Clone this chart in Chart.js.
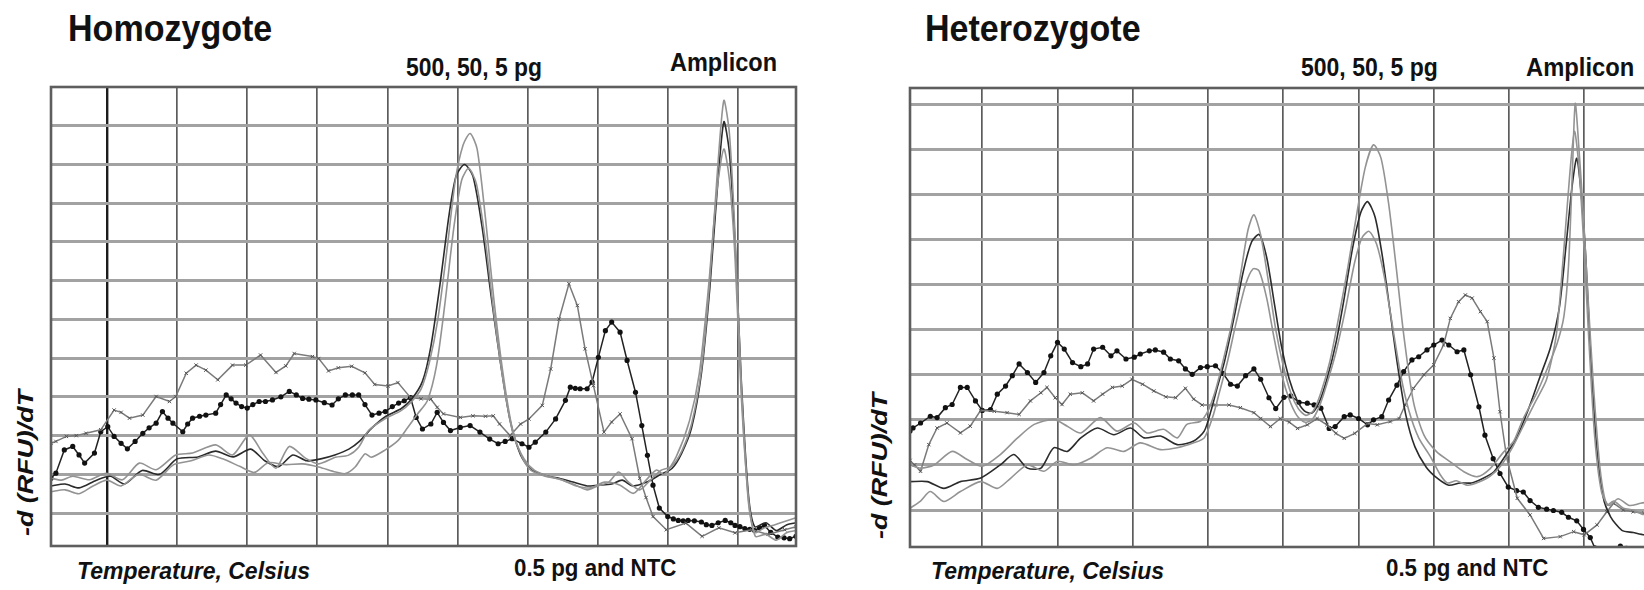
<!DOCTYPE html>
<html>
<head>
<meta charset="utf-8">
<script src="https://cdn.jsdelivr.net/npm/chart.js@4.4.1/dist/chart.umd.min.js"></script>
<style>
  body { margin: 0; width: 1644px; height: 590px; overflow: hidden; background: #fff; position: relative;
         font-family: "Liberation Sans", Arial, sans-serif; }
  .lbl { position: absolute; white-space: nowrap; line-height: 1; color: #111; font-weight: bold; transform-origin: 0 0; }
  .ylab { position: absolute; white-space: nowrap; line-height: 1; color: #111; font-weight: bold; font-style: italic;
          font-size: 22px; transform: translate(-50%, -50%) rotate(-90deg) scaleX(1.22); }
  .plot { position: absolute; }
</style>
</head>
<body>
<div class="lbl" style="left:68px;top:10px;font-size:37px;transform:scaleX(.92)">Homozygote</div>
<div class="lbl" style="left:406px;top:55px;font-size:25px;transform:scaleX(.915)">500, 50, 5 pg</div>
<div class="lbl" style="left:670px;top:50px;font-size:25px;transform:scaleX(.94)">Amplicon</div>
<div class="lbl" style="left:77px;top:560px;font-size:23px;font-style:italic">Temperature, Celsius</div>
<div class="lbl" style="left:514px;top:557px;font-size:23px;transform:scaleX(.97)">0.5 pg and NTC</div>
<div class="ylab" style="left:26px;top:463px">-d (RFU)/dT</div>

<div class="lbl" style="left:925px;top:10px;font-size:37px;transform:scaleX(.92)">Heterozygote</div>
<div class="lbl" style="left:1301px;top:55px;font-size:25px;transform:scaleX(.92)">500, 50, 5 pg</div>
<div class="lbl" style="left:1526px;top:55px;font-size:25px;transform:scaleX(.95)">Amplicon</div>
<div class="lbl" style="left:931px;top:560px;font-size:23px;font-style:italic">Temperature, Celsius</div>
<div class="lbl" style="left:1386px;top:557px;font-size:23px;transform:scaleX(.97)">0.5 pg and NTC</div>
<div class="ylab" style="left:880px;top:466px">-d (RFU)/dT</div>

<div class="plot" style="left:49px;top:85px;width:749px;height:463px"><canvas id="homo"></canvas></div>
<div class="plot" style="left:908px;top:86px;width:749px;height:463px"><canvas id="hetero"></canvas></div>

<script>
// grid positions (temperature, -d(RFU)/dT)
const homoGridX = [70, 71, 72, 73, 74, 75, 76, 77, 78, 79];
const homoGridY = [0, 1, 2, 3, 4, 5, 6, 7, 8, 9, 10];
const heteroGridX = [70, 71, 72, 73, 74, 75, 76, 77, 78];
const heteroGridY = [0, 1, 2, 3, 4, 5, 6, 7, 8, 9];

// Homozygote: 500 / 50 / 5 pg (smooth), 0.5 pg (x markers), NTC (dots)
const homo500 = [[69.2,0.9],[69.35,0.85],[69.51,0.95],[69.75,0.86],[69.99,1.03],[70.22,0.86],[70.46,1.29],[70.7,1.12],[70.98,1.5],[71.22,1.55],[71.55,1.76],[71.79,1.5],[72.03,2.02],[72.22,1.55],[72.41,1.16],[72.6,1.72],[72.83,1.42],[73.02,1.27],[73.26,1.44],[73.44,1.49],[73.59,1.7],[73.73,2.13],[73.96,2.43],[74.19,2.64],[74.33,2.85],[74.48,3.2],[74.6,3.9],[74.72,5.0],[74.85,6.8],[74.97,8.6],[75.08,9.5],[75.18,9.8],[75.28,9.4],[75.4,7.6],[75.52,5.5],[75.65,3.6],[75.78,2.2],[75.92,1.45],[76.05,1.1],[76.25,0.95],[76.45,0.88],[76.65,0.75],[76.85,0.6],[77.0,0.7],[77.16,0.8],[77.3,1.06],[77.44,0.8],[77.6,0.6],[77.75,0.85],[77.9,1.1],[78.05,1.2],[78.2,1.6],[78.34,2.3],[78.48,3.7],[78.6,6.0],[78.7,8.6],[78.8,10.65],[78.88,9.8],[78.96,7.2],[79.05,3.3],[79.15,0.3],[79.24,-0.5],[79.38,-0.38],[79.53,-0.3],[79.7,-0.2],[79.83,-0.12]];
const homo50 = [[69.2,0.7],[69.4,0.75],[69.6,0.65],[69.85,0.85],[70.05,0.95],[70.25,0.75],[70.5,1.1],[70.75,1.0],[71.0,1.4],[71.3,1.45],[71.55,1.6],[71.8,1.45],[72.05,1.65],[72.25,1.35],[72.45,1.2],[72.65,1.5],[72.85,1.35],[73.05,1.4],[73.25,1.5],[73.45,1.65],[73.6,1.85],[73.78,2.2],[73.98,2.5],[74.2,2.7],[74.35,2.95],[74.5,3.4],[74.62,4.3],[74.75,5.9],[74.88,7.7],[74.98,8.7],[75.1,9.0],[75.22,8.7],[75.35,7.4],[75.48,5.6],[75.62,3.8],[75.75,2.4],[75.9,1.5],[76.05,1.12],[76.25,0.97],[76.45,0.9],[76.65,0.8],[76.85,0.7],[77.0,0.72],[77.2,0.75],[77.35,0.85],[77.5,0.7],[77.7,0.8],[77.9,1.0],[78.06,1.15],[78.2,1.55],[78.34,2.2],[78.48,3.6],[78.6,5.8],[78.7,8.2],[78.8,10.1],[78.88,9.3],[78.96,7.0],[79.05,3.4],[79.15,0.5],[79.24,-0.35],[79.4,-0.25],[79.55,-0.45],[79.7,-0.3],[79.83,-0.25]];
const homo5 = [[69.2,0.55],[69.4,0.6],[69.6,0.5],[69.8,0.7],[70.0,0.85],[70.2,0.7],[70.45,1.0],[70.7,0.85],[70.95,1.25],[71.2,1.35],[71.45,1.5],[71.65,1.4],[71.9,1.2],[72.1,1.05],[72.3,1.3],[72.55,1.25],[72.79,1.27],[73.02,1.19],[73.26,1.06],[73.4,1.02],[73.54,1.19],[73.68,1.53],[73.77,1.44],[73.96,1.62],[74.15,1.87],[74.29,2.21],[74.43,2.56],[74.57,2.9],[74.7,3.8],[74.82,5.4],[74.95,7.4],[75.06,8.6],[75.16,8.9],[75.27,8.5],[75.4,7.0],[75.53,5.0],[75.67,3.2],[75.8,2.0],[75.95,1.4],[76.1,1.1],[76.3,0.95],[76.5,0.85],[76.7,0.7],[76.9,0.65],[77.1,0.8],[77.32,0.72],[77.51,0.51],[77.69,0.85],[77.84,1.11],[77.95,1.0],[78.12,1.45],[78.31,2.38],[78.45,3.6],[78.58,5.8],[78.7,8.3],[78.8,9.4],[78.88,8.6],[78.96,6.6],[79.05,3.0],[79.15,0.4],[79.25,-0.6],[79.4,-0.55],[79.55,-0.7],[79.7,-0.5],[79.83,-0.45]];
const homoHalfPg = [[69.2,1.8],[69.27,1.85],[69.42,1.98],[69.56,2.0],[69.7,2.06],[69.91,2.15],[70.1,2.66],[70.2,2.6],[70.32,2.45],[70.51,2.53],[70.7,3.01],[70.89,2.88],[70.98,3.01],[71.13,3.61],[71.27,3.82],[71.41,3.69],[71.58,3.44],[71.79,3.82],[71.98,3.82],[72.19,4.08],[72.41,3.63],[72.55,3.8],[72.67,4.12],[72.93,4.04],[73.02,3.99],[73.16,3.67],[73.3,3.75],[73.49,3.79],[73.68,3.62],[73.82,3.32],[74.01,3.28],[74.15,3.37],[74.33,2.98],[74.48,2.95],[74.62,2.94],[74.71,2.73],[74.8,2.56],[75.04,2.47],[75.22,2.51],[75.4,2.5],[75.51,2.51],[75.6,2.3],[75.75,2.0],[75.9,2.3],[76.02,2.43],[76.21,2.78],[76.33,3.72],[76.45,5.01],[76.59,5.92],[76.71,5.36],[76.82,4.24],[76.94,3.29],[77.09,2.09],[77.2,2.35],[77.32,2.56],[77.49,1.92],[77.6,0.9],[77.69,0.4],[77.79,-0.09],[77.98,-0.43],[78.26,-0.26],[78.49,-0.6],[78.73,-0.38],[78.96,-0.51],[79.2,-0.43],[79.43,-0.55],[79.67,-0.43],[79.83,-0.35]];
const homoNtc = [[69.2,0.9],[69.27,1.03],[69.39,1.63],[69.51,1.72],[69.6,1.5],[69.68,1.29],[69.82,1.55],[69.91,2.1],[70.01,2.23],[70.1,1.98],[70.2,1.8],[70.29,1.66],[70.4,1.85],[70.51,2.06],[70.6,2.2],[70.7,2.32],[70.79,2.62],[70.87,2.45],[70.94,2.32],[71.08,2.1],[71.15,2.3],[71.22,2.45],[71.32,2.5],[71.41,2.53],[71.55,2.58],[71.62,2.8],[71.7,3.05],[71.77,2.95],[71.84,2.84],[71.92,2.75],[72.0,2.71],[72.08,2.8],[72.17,2.88],[72.26,2.88],[72.36,2.92],[72.48,3.0],[72.6,3.14],[72.7,3.05],[72.79,2.96],[72.88,2.94],[72.98,2.92],[73.1,2.85],[73.21,2.79],[73.3,2.95],[73.4,3.05],[73.5,3.05],[73.59,3.05],[73.68,2.8],[73.78,2.53],[73.88,2.58],[73.97,2.62],[74.07,2.75],[74.16,2.84],[74.24,2.9],[74.33,2.98],[74.41,2.47],[74.5,2.17],[74.62,2.3],[74.71,2.6],[74.8,2.34],[74.9,2.13],[75.04,2.21],[75.18,2.26],[75.32,2.09],[75.46,1.91],[75.58,1.79],[75.68,1.85],[75.78,1.92],[75.92,1.79],[76.02,1.7],[76.11,1.83],[76.26,2.09],[76.4,2.43],[76.54,2.91],[76.61,3.25],[76.68,3.22],[76.75,3.21],[76.85,3.21],[76.92,3.38],[77.01,4.02],[77.11,4.71],[77.2,4.93],[77.32,4.67],[77.42,3.94],[77.54,3.12],[77.63,2.26],[77.71,1.49],[77.79,0.72],[77.88,0.13],[78.0,-0.09],[78.08,-0.15],[78.15,-0.19],[78.22,-0.2],[78.29,-0.19],[78.38,-0.2],[78.48,-0.23],[78.55,-0.3],[78.63,-0.32],[78.72,-0.25],[78.82,-0.19],[78.9,-0.25],[78.96,-0.32],[79.03,-0.35],[79.1,-0.4],[79.17,-0.42],[79.24,-0.45],[79.31,-0.38],[79.38,-0.32],[79.47,-0.5],[79.57,-0.62],[79.66,-0.64],[79.74,-0.66],[79.83,-0.6]];

// Heterozygote
const hetero500 = [[69.04,1.0],[69.18,0.93],[69.36,1.0],[69.6,1.3],[69.8,1.12],[70.0,0.97],[70.24,1.23],[70.47,1.6],[70.69,1.9],[70.95,2.01],[71.13,1.86],[71.31,1.71],[71.57,2.05],[71.79,1.75],[72.02,1.93],[72.19,1.71],[72.41,1.79],[72.59,1.6],[72.72,1.9],[72.9,1.97],[73.0,2.2],[73.09,2.6],[73.17,3.1],[73.31,4.1],[73.44,5.3],[73.53,6.2],[73.61,6.55],[73.7,6.1],[73.8,5.1],[73.9,4.0],[74.0,3.2],[74.1,2.6],[74.2,2.25],[74.3,2.1],[74.4,2.2],[74.5,2.6],[74.62,3.3],[74.74,4.3],[74.86,5.4],[74.98,6.6],[75.09,7.6],[75.2,8.1],[75.3,7.8],[75.4,6.8],[75.5,5.4],[75.6,3.9],[75.73,2.4],[75.87,1.66],[76.04,1.29],[76.22,1.07],[76.4,0.85],[76.58,0.74],[76.75,0.92],[76.93,1.29],[77.06,1.52],[77.19,2.03],[77.37,2.6],[77.5,3.1],[77.64,3.7],[77.73,4.3],[77.79,5.4],[77.84,7.4],[77.88,9.02],[77.93,8.0],[77.99,6.5],[78.04,5.0],[78.12,2.8],[78.21,0.92],[78.3,0.11],[78.39,0.2],[78.52,0.04],[78.65,0.0],[78.79,-0.1],[78.95,-0.05]];
const hetero50 = [[69.04,0.63],[69.27,0.63],[69.49,0.48],[69.71,0.63],[69.98,0.71],[70.24,1.0],[70.42,1.23],[70.6,0.93],[70.78,0.93],[70.95,1.38],[71.13,1.3],[71.31,1.6],[71.53,1.82],[71.75,1.67],[71.97,1.82],[72.15,1.6],[72.37,1.64],[72.59,1.45],[72.81,1.53],[72.95,1.75],[73.04,2.2],[73.12,2.7],[73.22,3.3],[73.35,4.3],[73.47,5.3],[73.58,5.95],[73.68,6.11],[73.78,5.6],[73.88,4.6],[73.98,3.6],[74.08,2.9],[74.18,2.45],[74.28,2.2],[74.38,2.15],[74.48,2.4],[74.58,2.9],[74.7,3.7],[74.81,4.7],[74.92,5.8],[75.03,6.6],[75.12,6.84],[75.22,6.5],[75.32,5.6],[75.42,4.4],[75.52,3.2],[75.63,2.1],[75.75,1.4],[75.9,0.95],[76.05,0.7],[76.2,0.55],[76.35,0.6],[76.5,0.6],[76.65,0.7],[76.8,0.85],[76.95,1.2],[77.1,1.6],[77.25,2.2],[77.4,2.9],[77.55,3.6],[77.67,4.5],[77.76,5.9],[77.84,7.2],[77.9,7.8],[77.96,7.0],[78.02,5.6],[78.08,3.6],[78.16,1.5],[78.25,0.3],[78.35,-0.15],[78.5,-0.45],[78.65,-0.5],[78.8,-0.55],[78.95,-0.5]];
const hetero5 = [[69.04,0.04],[69.18,0.2],[69.31,0.41],[69.49,0.19],[69.71,0.41],[69.98,0.63],[70.2,0.48],[70.38,0.71],[70.6,1.0],[70.82,0.86],[71.0,1.08],[71.22,1.0],[71.44,1.15],[71.66,1.38],[71.88,1.3],[72.1,1.49],[72.37,1.34],[72.59,1.38],[72.81,1.49],[72.95,1.6],[73.06,2.05],[73.15,2.6],[73.26,3.3],[73.38,4.2],[73.5,5.0],[73.6,5.35],[73.68,5.3],[73.78,4.7],[73.88,3.8],[73.98,3.0],[74.08,2.45],[74.18,2.1],[74.28,1.95],[74.38,2.0],[74.48,2.3],[74.58,2.8],[74.7,3.5],[74.82,4.4],[74.95,5.5],[75.05,6.05],[75.14,6.18],[75.24,5.9],[75.34,5.2],[75.45,4.1],[75.56,3.0],[75.67,2.2],[75.8,1.6],[75.95,1.2],[76.08,0.8],[76.18,0.6],[76.3,0.65],[76.45,0.55],[76.6,0.62],[76.75,0.75],[76.9,1.0],[77.05,1.4],[77.2,1.9],[77.35,2.4],[77.5,2.9],[77.63,3.9],[77.73,5.8],[77.81,7.5],[77.87,8.4],[77.93,7.6],[77.99,6.0],[78.06,3.8],[78.14,1.6],[78.23,0.4],[78.33,0.1],[78.45,0.25],[78.6,0.1],[78.75,0.15],[78.95,0.2]];
const heteroHalfPg = [[69.04,1.1],[69.1,1.0],[69.18,0.86],[69.29,1.45],[69.4,1.82],[69.53,1.93],[69.71,1.71],[69.84,1.86],[69.98,2.21],[70.16,2.19],[70.33,2.16],[70.49,2.12],[70.64,2.42],[70.78,2.6],[70.86,2.72],[70.97,2.49],[71.06,2.34],[71.17,2.57],[71.33,2.6],[71.48,2.42],[71.6,2.57],[71.73,2.72],[71.86,2.75],[71.99,2.9],[72.13,2.79],[72.28,2.64],[72.44,2.51],[72.57,2.49],[72.7,2.7],[72.81,2.46],[72.92,2.33],[73.1,2.33],[73.28,2.33],[73.43,2.27],[73.61,2.16],[73.7,2.03],[73.83,1.85],[73.96,2.03],[74.08,1.95],[74.19,1.81],[74.32,1.89],[74.45,2.03],[74.58,1.89],[74.7,1.7],[74.81,1.59],[74.95,1.7],[75.12,1.92],[75.25,1.89],[75.42,1.96],[75.54,2.03],[75.62,2.33],[75.73,2.7],[75.87,3.0],[76.0,3.22],[76.13,3.66],[76.22,4.25],[76.33,4.62],[76.42,4.77],[76.51,4.7],[76.62,4.4],[76.71,4.18],[76.8,3.37],[76.88,2.18],[76.97,1.15],[77.11,0.26],[77.28,-0.11],[77.46,-0.63],[77.68,-0.59],[77.86,-0.48],[78.0,-0.55],[78.17,-0.33],[78.3,-0.04],[78.39,0.15],[78.52,0.0],[78.65,-0.04],[78.79,-0.07],[78.95,-0.1]];
const heteroNtc = [[69.04,1.75],[69.08,1.82],[69.18,1.93],[69.31,2.08],[69.4,2.05],[69.51,2.27],[69.6,2.34],[69.71,2.72],[69.8,2.72],[69.91,2.42],[70.0,2.21],[70.11,2.23],[70.2,2.57],[70.31,2.75],[70.4,2.98],[70.49,3.24],[70.6,3.05],[70.71,2.83],[70.82,3.05],[70.91,3.42],[71.0,3.72],[71.09,3.57],[71.2,3.27],[71.31,3.18],[71.4,3.24],[71.48,3.57],[71.6,3.61],[71.71,3.42],[71.79,3.53],[71.91,3.35],[72.02,3.39],[72.1,3.46],[72.22,3.53],[72.3,3.55],[72.41,3.5],[72.5,3.35],[72.61,3.31],[72.7,3.13],[72.79,3.01],[72.9,3.16],[72.99,3.18],[73.1,3.2],[73.2,3.03],[73.3,2.79],[73.39,2.75],[73.5,2.98],[73.61,3.13],[73.7,2.9],[73.81,2.49],[73.9,2.25],[74.01,2.5],[74.1,2.53],[74.21,2.39],[74.32,2.37],[74.41,2.33],[74.5,2.26],[74.61,1.81],[74.69,1.85],[74.81,2.07],[74.89,2.11],[75.0,2.03],[75.12,1.89],[75.2,2.0],[75.31,2.07],[75.4,2.44],[75.51,2.77],[75.6,3.07],[75.71,3.33],[75.8,3.4],[75.91,3.55],[76.0,3.66],[76.11,3.77],[76.2,3.66],[76.31,3.51],[76.4,3.55],[76.49,3.0],[76.6,2.29],[76.68,1.66],[76.79,1.14],[76.88,0.81],[76.99,0.51],[77.1,0.43],[77.19,0.4],[77.28,0.21],[77.39,0.06],[77.5,0.02],[77.59,-0.01],[77.7,-0.05],[77.79,-0.16],[77.9,-0.24],[77.99,-0.43],[78.08,-0.61],[78.14,-0.84],[78.25,-1.0],[78.4,-0.95],[78.48,-0.8],[78.56,-0.85],[78.7,-1.0]];

const styles = {
  pale:  { borderColor: '#939393', borderWidth: 1.6, pointRadius: 0, tension: 0.25 },
  dark:  { borderColor: '#2b2b2b', borderWidth: 1.6, pointRadius: 0, tension: 0.25 },
  cross: { borderColor: '#7a7a7a', borderWidth: 1.5, pointStyle: 'crossRot', pointRadius: 2.4,
           pointBorderColor: '#555', pointBorderWidth: 1, tension: 0 },
  dot:   { borderColor: '#222', borderWidth: 1.5, pointStyle: 'circle', pointRadius: 2.6,
           pointBackgroundColor: '#111', pointBorderWidth: 0, tension: 0 },
};

// frame around the plot area
const framePlugin = {
  id: 'frame',
  afterDraw(chart) {
    const { ctx, chartArea: a } = chart;
    ctx.save();
    ctx.strokeStyle = '#5e5e5e';
    ctx.lineWidth = 2.6;
    ctx.strokeRect(a.left, a.top, a.right - a.left, a.bottom - a.top);
    ctx.restore();
  }
};

function makeChart(id, xMin, xMax, yMin, yMax, gridX, gridY, darkLine, series) {
  const ctx = document.getElementById(id).getContext('2d');
  return new Chart(ctx, {
    type: 'line',
    data: {
      datasets: series.map(([data, kind]) => Object.assign({ data: data, fill: false }, styles[kind])),
    },
    options: {
      animation: false,
      responsive: true,
      maintainAspectRatio: false,
      layout: { padding: 2, autoPadding: false },
      plugins: { legend: { display: false }, tooltip: { enabled: false } },
      scales: {
        x: {
          type: 'linear', min: xMin, max: xMax,
          afterBuildTicks: s => { s.ticks = gridX.map(v => ({ value: v })); },
          ticks: { display: false },
          border: { display: false },
          grid: {
            drawTicks: false,
            color: c => (c.tick && c.tick.value === darkLine) ? '#1c1c1c' : '#5c5c5c',
            lineWidth: c => (c.tick && c.tick.value === darkLine) ? 2.4 : 1.7,
          },
        },
        y: {
          type: 'linear', min: yMin, max: yMax,
          afterBuildTicks: s => { s.ticks = gridY.map(v => ({ value: v })); },
          ticks: { display: false },
          border: { display: false },
          grid: { drawTicks: false, color: '#a2a2a2', lineWidth: 3 },
        },
      },
    },
    plugins: [framePlugin],
  });
}

makeChart('homo', 69.2, 79.83, -0.85, 11, homoGridX, homoGridY, 70, [
  [homo5, 'pale'], [homo500, 'pale'], [homo50, 'dark'], [homoHalfPg, 'cross'], [homoNtc, 'dot'],
]);
makeChart('hetero', 69.04, 78.94, -0.82, 9.36, heteroGridX, heteroGridY, null, [
  [hetero5, 'pale'], [hetero500, 'pale'], [hetero50, 'dark'], [heteroHalfPg, 'cross'], [heteroNtc, 'dot'],
]);
</script>
</body>
</html>
